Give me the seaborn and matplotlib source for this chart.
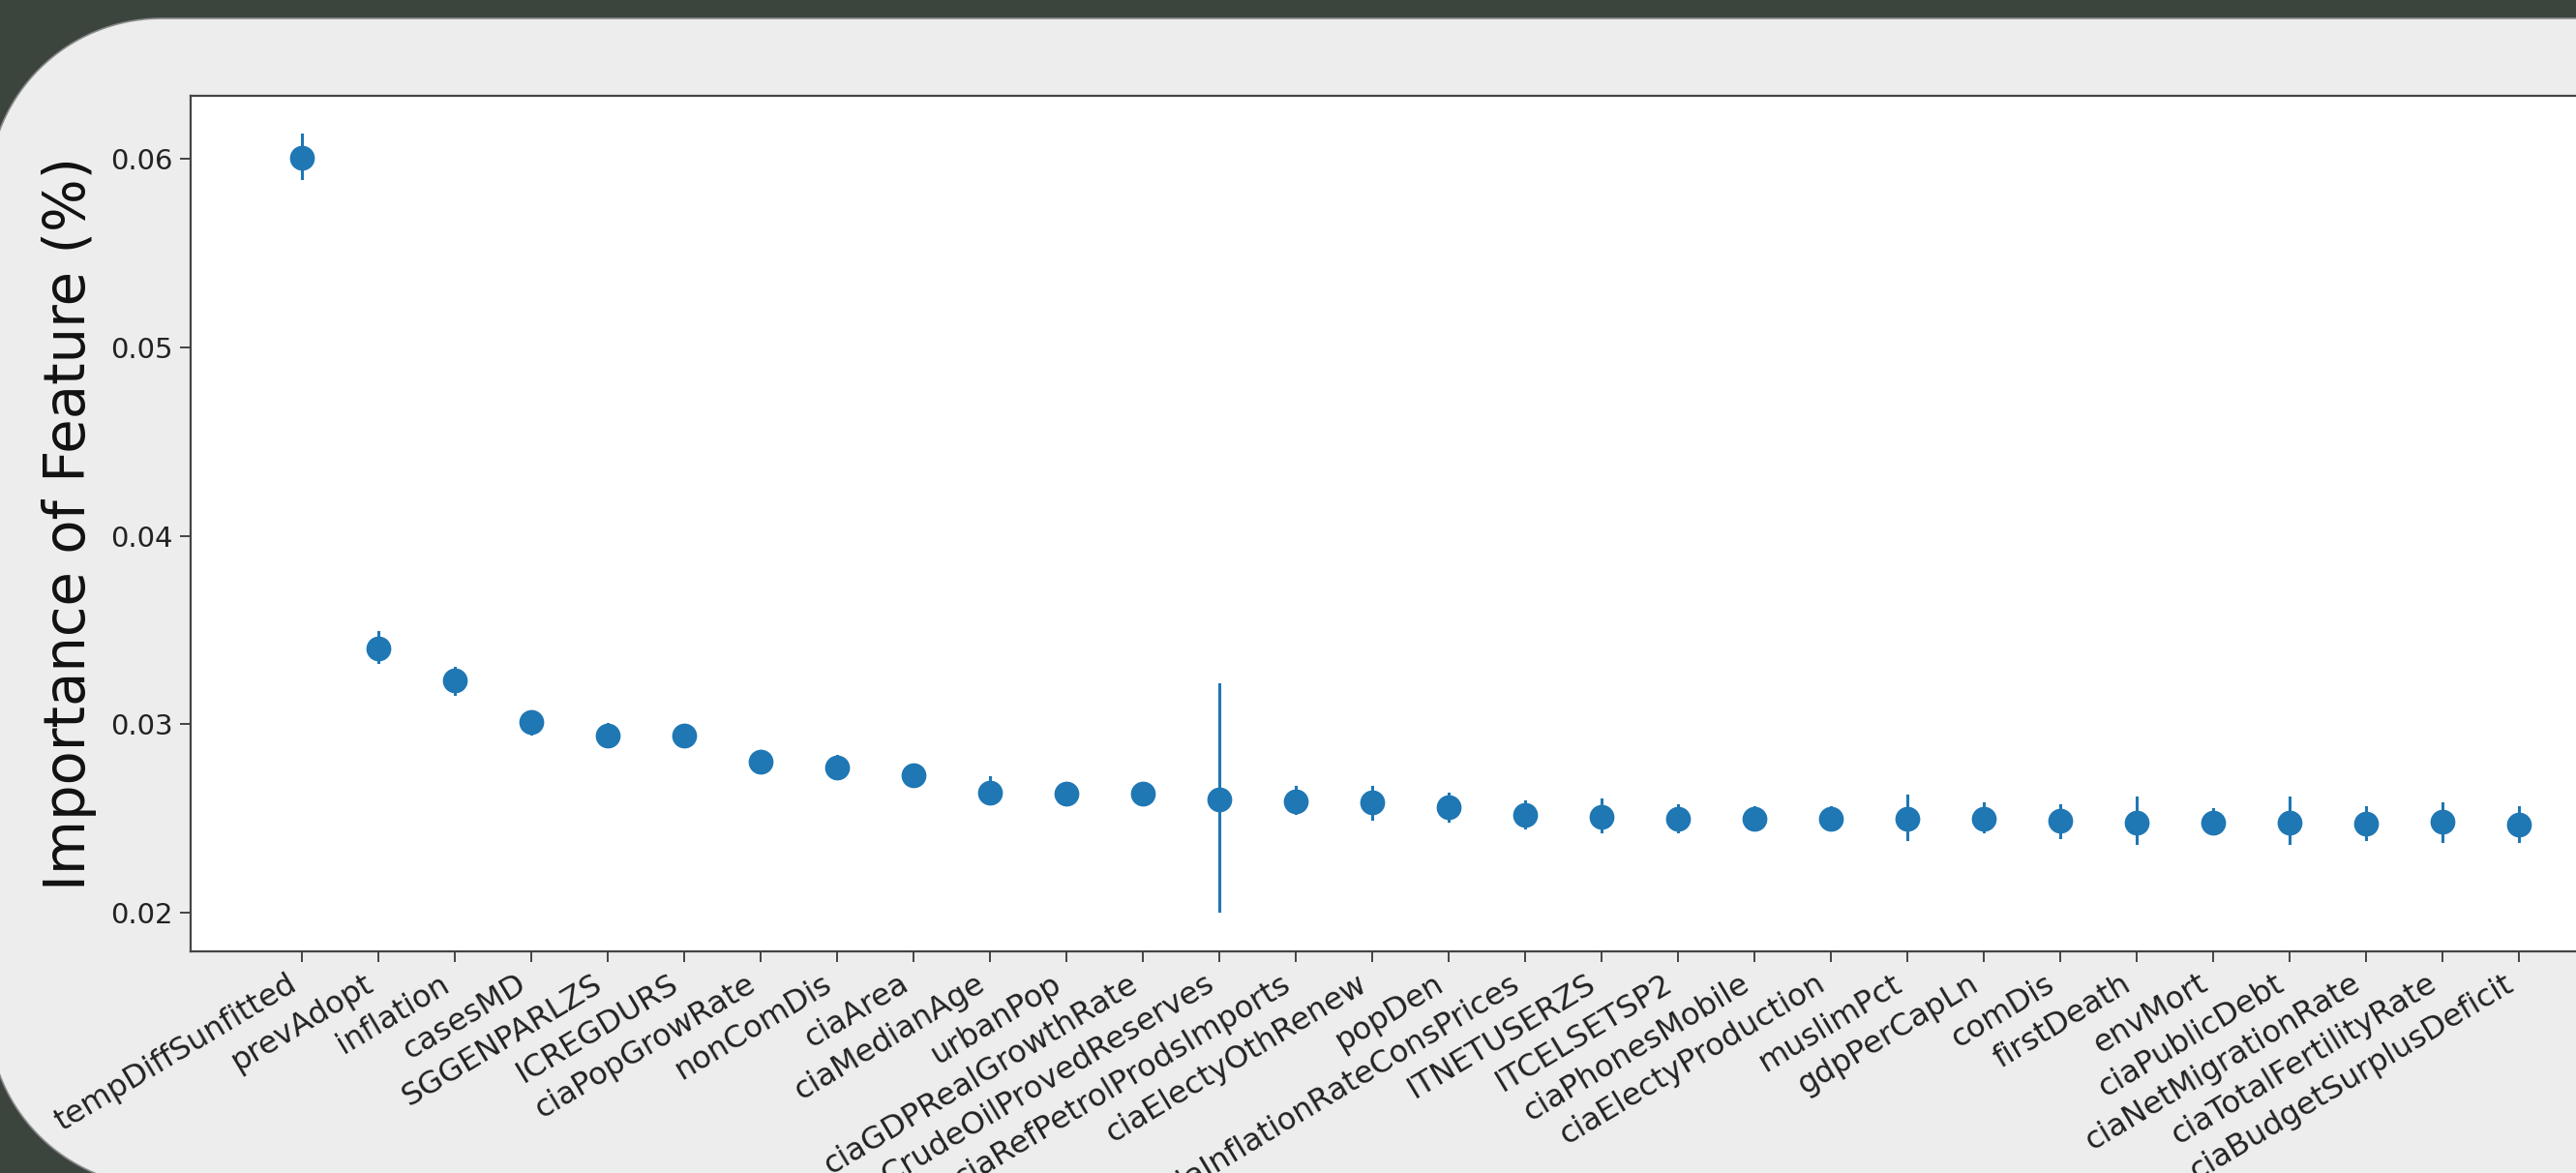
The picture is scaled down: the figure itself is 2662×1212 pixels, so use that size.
import matplotlib
matplotlib.use("Agg")
import matplotlib.pyplot as plt
from matplotlib.patches import Polygon
import seaborn as sns
import pandas as pd
import numpy as np

features = ["tempDiffSunfitted", "prevAdopt", "inflation", "casesMD", "SGGENPARLZS",
            "ICREGDURS", "ciaPopGrowRate", "nonComDis", "ciaArea", "ciaMedianAge",
            "urbanPop", "ciaGDPRealGrowthRate", "ciaCrudeOilProvedReserves",
            "ciaRefPetrolProdsImports", "ciaElectyOthRenew", "popDen",
            "ciaInflationRateConsPrices", "ITNETUSERZS", "ITCELSETSP2", "ciaPhonesMobile",
            "ciaElectyProduction", "muslimPct", "gdpPerCapLn", "comDis", "firstDeath",
            "envMort", "ciaPublicDebt", "ciaNetMigrationRate", "ciaTotalFertilityRate",
            "ciaBudgetSurplusDeficit"]

importance = [0.06005, 0.0340, 0.0323, 0.0301, 0.0294, 0.0294, 0.0280, 0.0277, 0.0273,
              0.02635, 0.0263, 0.0263, 0.0260, 0.0259, 0.02585, 0.0256, 0.0252, 0.0251,
              0.0250, 0.0250, 0.0250, 0.0250, 0.0250, 0.02486, 0.02478, 0.02478, 0.02478,
              0.02474, 0.02481, 0.02469]

err_low = [0.0590, 0.0333, 0.0316, 0.0295, 0.0289, 0.0289, 0.0275, 0.0272, 0.0268,
           0.0258, 0.0258, 0.0258, 0.0201, 0.0253, 0.0250, 0.0249, 0.0245, 0.0243,
           0.0243, 0.0244, 0.0244, 0.0239, 0.0243, 0.0240, 0.0237, 0.0242, 0.0237,
           0.0239, 0.0238, 0.0238]

err_high = [0.0613, 0.0349, 0.0330, 0.0307, 0.0300, 0.0299, 0.0286, 0.0283, 0.0278,
            0.0272, 0.0268, 0.0268, 0.0321, 0.0267, 0.0267, 0.0263, 0.0259, 0.0260,
            0.0257, 0.0256, 0.0256, 0.0262, 0.0258, 0.0257, 0.0261, 0.0255, 0.0261,
            0.0256, 0.0258, 0.0256]

ytick_vals = [0.02, 0.03, 0.04, 0.05, 0.06]
ylabel = "Importance of Feature (%)"

rows = []
for f, lo, mid, hi in zip(features, err_low, importance, err_high):
    for v in (lo, mid, hi):
        rows.append({"feature": f, "importance": v})
df = pd.DataFrame(rows)

W, H = 2662, 1212
fig = plt.figure(figsize=(W / 100, H / 100), dpi=100)
fig.patch.set_facecolor("#3b453e")

# rounded background panel (pixel coordinates, y up)
left, top, bottom, right, r = -12, H - 19, H - 1226, 3200, 179
t1 = np.linspace(np.pi / 2, np.pi, 60)          # top-left arc
t2 = np.linspace(np.pi, 1.5 * np.pi, 60)        # bottom-left arc
arc_tl = np.column_stack([left + r + r * np.cos(t1), top - r + r * np.sin(t1)])
arc_bl = np.column_stack([left + r + r * np.cos(t2), bottom + r + r * np.sin(t2)])
pts = np.vstack([[[right, top]], arc_tl, arc_bl, [[right, bottom]]])
panel = Polygon(pts, closed=True, transform=None, facecolor="#ededed",
                edgecolor="#8a8a8a", linewidth=1.2, zorder=-5)
fig.patches.append(panel)

ax = fig.add_axes([197 / W, (H - 983) / H, 2521 / W, (983 - 99) / H])
ax.set_zorder(1)
ax.set_facecolor("white")

sns.pointplot(data=df, x="feature", y="importance", order=features,
              estimator="median", errorbar=("pi", 100),
              color="#1f77b4", linestyle="none", marker="o", markersize=16.5,
              err_kws={"linewidth": 2.2}, ax=ax)

ax.set_xlim(-1.46, 30.46)
ax.set_ylim(0.017946, 0.06334)
ax.set_yticks(ytick_vals)
ax.set_yticklabels([f"{v:.2f}" for v in ytick_vals], fontsize=21, color="#222222")
ax.set_xticks(range(len(features)))
ax.set_xticklabels(features, rotation=31, ha="right", fontsize=23, color="#222222")
ax.set_xlabel("")
ax.set_ylabel(ylabel, fontsize=41.5, color="#111111", labelpad=10)
ax.tick_params(length=8, width=1.4, color="#444444", pad=5)
for s in ax.spines.values():
    s.set_linewidth(1.6)
    s.set_color("#444444")

fig.savefig("out.png", dpi=100, facecolor=fig.get_facecolor())
